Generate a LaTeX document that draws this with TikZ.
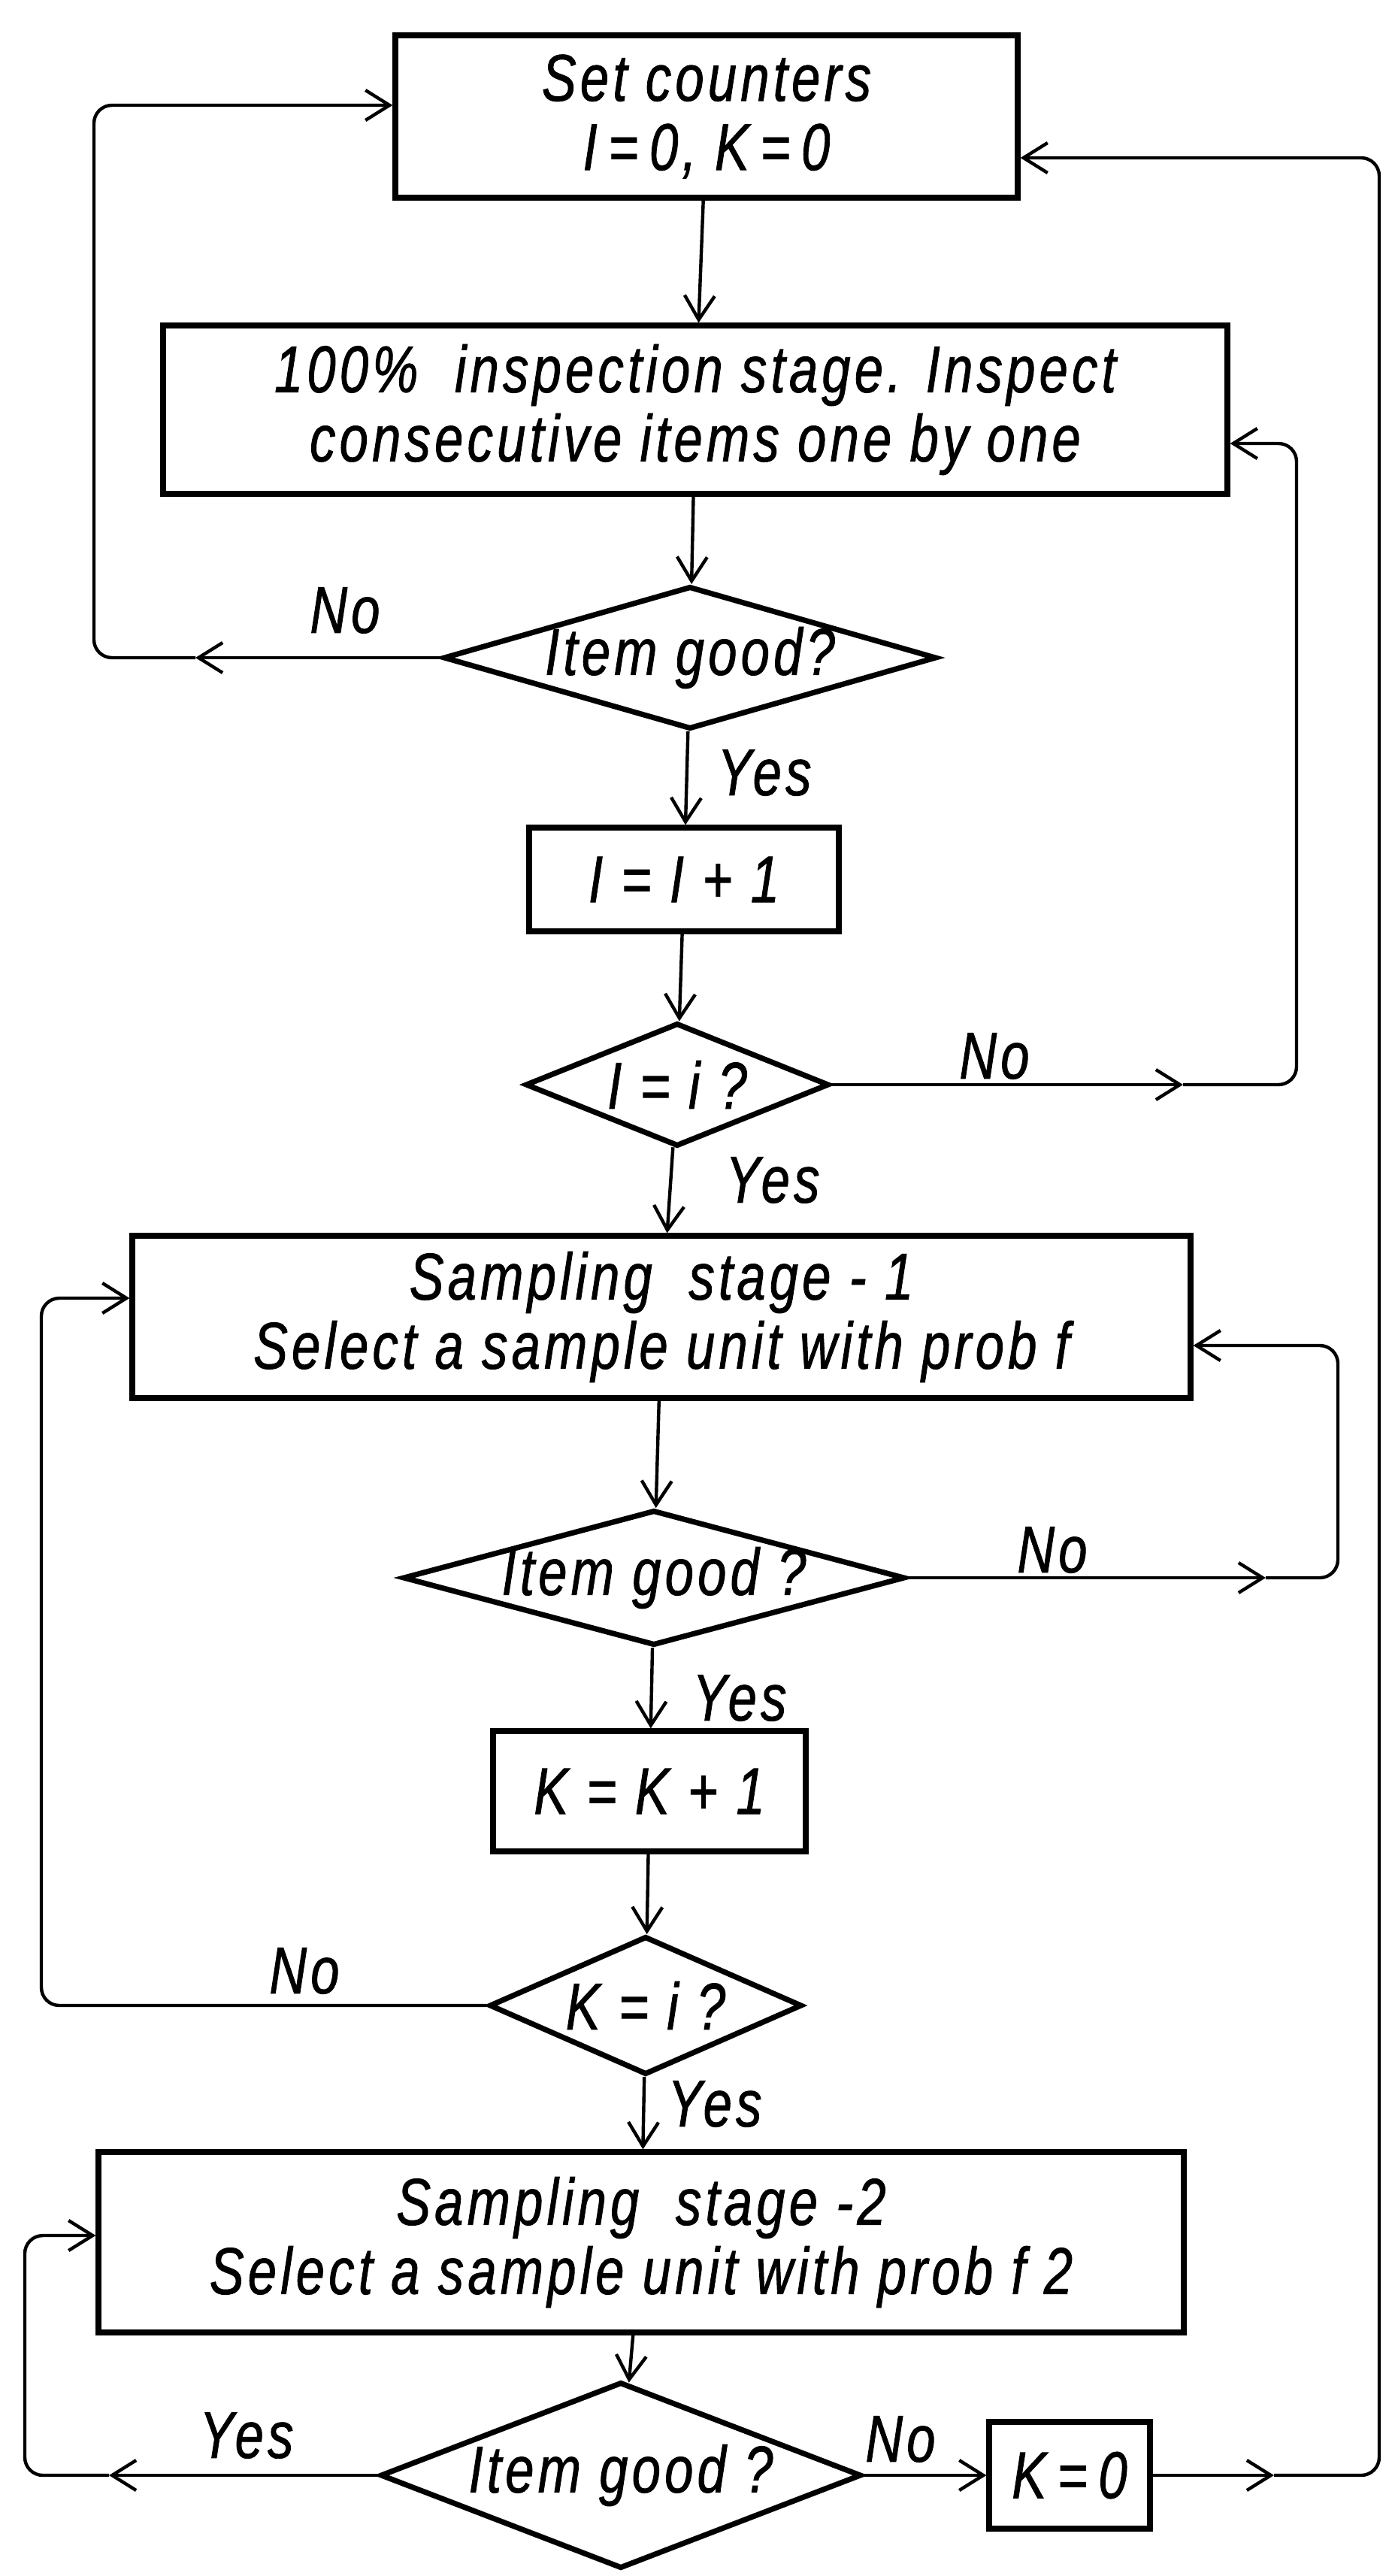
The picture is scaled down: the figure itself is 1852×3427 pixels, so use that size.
\documentclass[tikz,border=0pt]{standalone}
\usepackage{fontspec}
\setmainfont{Liberation Sans}[FakeStretch=0.78, LetterSpace=6, FakeBold=1]
\usetikzlibrary{shapes.geometric, arrows.meta}
\begin{document}
\begin{tikzpicture}[x=0.25pt, y=-0.25pt,
  every node/.style={font=\fontsize{22}{23}\selectfont\itshape},
  box/.style={draw, rectangle, line width=1.8pt, inner sep=0pt, align=center},
  dia/.style={draw, diamond, line width=1.8pt, inner sep=0pt},
  conn/.style={line width=1.1pt},
  arr/.style={conn, -{Straight Barb[length=8pt,width=10pt]}},
  rc/.style={rounded corners=6pt},
  lbl/.style={inner sep=0pt}]
\useasboundingbox (0,0) rectangle (1852,3427);

% nodes
\node[box, minimum width=207pt, minimum height=54pt] (b1) at (940,155) {Set counters\\ I\,=\,0, K\,=\,0};
\node[box, minimum width=354pt, minimum height=56pt] (b2) at (925,545) {100\%\ \ inspection stage. Inspect\\ consecutive items one by one};
\node[dia, minimum width=164pt, minimum height=47.5pt] (d1) at (918,875) {\makebox[0pt]{Item good?}};
\node[box, minimum width=103pt, minimum height=34.5pt] (b3) at (910,1170) {I = I + 1};
\node[dia, minimum width=101pt, minimum height=41pt] (d2) at (901,1443) {\makebox[0pt]{I = i ?}};
\node[box, minimum width=352pt, minimum height=54pt] (b4) at (880,1752) {Sampling\ \ stage - 1\\ Select a sample unit with prob f};
\node[dia, minimum width=167pt, minimum height=45pt] (d3) at (870,2099) {\makebox[0pt]{Item good ?}};
\node[box, minimum width=104pt, minimum height=40pt] (b5) at (864,2383) {K = K + 1};
\node[dia, minimum width=104pt, minimum height=46pt] (d4) at (859,2668) {\makebox[0pt]{K = i ?}};
\node[box, minimum width=361pt, minimum height=60pt] (b6) at (853,2983) {Sampling\ \ stage -2\\ Select a sample unit with prob f 2};
\node[dia, minimum width=160pt, minimum height=62pt] (d5) at (826,3293) {\makebox[0pt]{Item good ?}};
\node[box, minimum width=53.5pt, minimum height=35.5pt] (b7) at (1423,3293) {K\,=\,0};

% coordinates
\coordinate (m1) at (260,875);
\coordinate (c1) at (125,140);
\coordinate (m2) at (1574,1443);
\coordinate (c2) at (1725,590);
\coordinate (m3) at (1684,2099);
\coordinate (c3) at (1780,1790);
\coordinate (c4) at (55,1727);
\coordinate (m5) at (145,3293);
\coordinate (c5) at (33,2974);
\coordinate (m7) at (1695,3293);
\coordinate (c7) at (1835,210);

% main flow
\draw[arr] (b1) -- (b2);
\draw[arr] (b2) -- (d1);
\draw[arr] (d1) -- (b3);
\draw[arr] (b3) -- (d2);
\draw[arr] (d2) -- (b4);
\draw[arr] (b4) -- (d3);
\draw[arr] (d3) -- (b5);
\draw[arr] (b5) -- (d4);
\draw[arr] (d4) -- (b6);
\draw[arr] (b6) -- (d5);
\draw[arr] (d5) -- (b7);

% loops
\draw[arr] (d1.west) -- (m1);
\draw[arr, rc] (m1) -| (c1) -- (c1 -| b1.west);
\draw[arr] (d2.east) -- (m2);
\draw[arr, rc] (m2) -| (c2) -- (c2 -| b2.east);
\draw[arr] (d3.east) -- (m3);
\draw[arr, rc] (m3) -| (c3) -- (c3 -| b4.east);
\draw[arr, rc] (d4.west) -| (c4) -- (c4 -| b4.west);
\draw[arr] (d5.west) -- (m5);
\draw[arr, rc] (m5) -| (c5) -- (c5 -| b6.west);
\draw[arr] (b7.east) -- (m7);
\draw[arr, rc] (m7) -| (c7) -- (c7 -| b1.east);

% labels
\node[lbl] (l1) at (459,812) {No};
\node[lbl] (l2) at (1017,1028) {Yes};
\node[lbl] (l3) at (1323,1405) {No};
\node[lbl] (l4) at (1028,1570) {Yes};
\node[lbl] (l5) at (1400,2062) {No};
\node[lbl] (l6) at (984,2259) {Yes};
\node[lbl] (l7) at (405,2622) {No};
\node[lbl] (l8) at (951,2799) {Yes};
\node[lbl] (l9) at (328,3240) {Yes};
\node[lbl] (l10) at (1198,3245) {No};
\end{tikzpicture}
\end{document}
